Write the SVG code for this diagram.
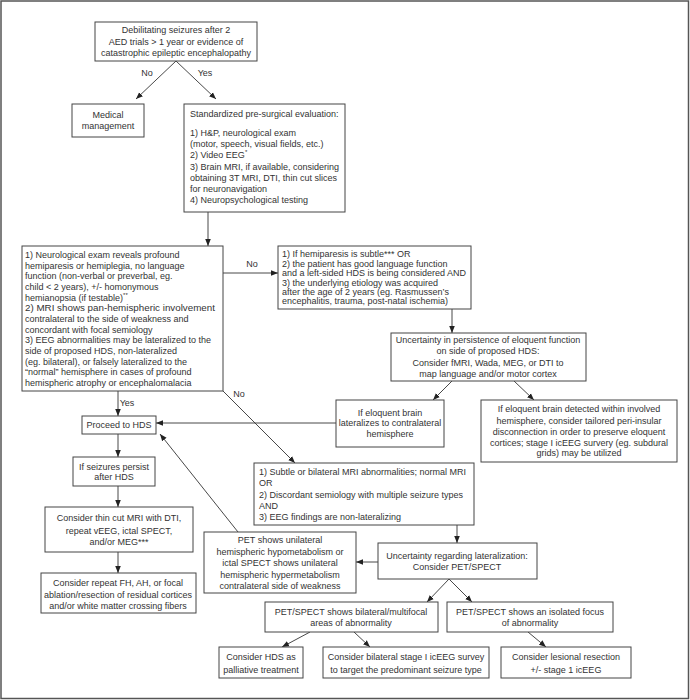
<svg xmlns="http://www.w3.org/2000/svg" width="690" height="700" viewBox="0 0 690 700">
<defs>
<marker id="ah" viewBox="0 0 10 10" refX="10" refY="5" markerWidth="7" markerHeight="7" markerUnits="userSpaceOnUse" orient="auto">
<path d="M0,1 L10,5 L0,9 z" fill="#222"/>
</marker>
<style>
.b{fill:#fff;stroke:#444;stroke-width:1}
text{font-family:"Liberation Sans",Arial,sans-serif;font-size:9px;fill:#333}
.c{text-anchor:middle}
.e{stroke:#333;stroke-width:0.9;fill:none;marker-end:url(#ah)}
.sup{font-size:6px}
</style>
</defs>
<rect x="1" y="1" width="687.5" height="697.5" fill="#fff" stroke="#555" stroke-width="1.5"/>

<g id="connectors">
<path class="e" d="M176,61 L136,99"/>
<path class="e" d="M176,61 L216,99"/>
<path class="e" d="M208,212 L208,246"/>
<path class="e" d="M223,273 L278,273"/>
<path class="e" d="M452,309 L452,333"/>
<path class="e" d="M452,381 L433,400"/>
<path class="e" d="M514,381 L534,400"/>
<path class="e" d="M336,423 L156,423"/>
<path class="e" d="M118,391 L118,416"/>
<path class="e" d="M223,391 L295,463"/>
<path class="e" d="M118,434 L118,457"/>
<path class="e" d="M118,486 L118,507"/>
<path class="e" d="M118,552 L118,573"/>
<path class="e" d="M238,532 L160,434"/>
<path class="e" d="M457,525 L457,543"/>
<path class="e" d="M378,562 L356,562"/>
<path class="e" d="M449,579 L427,602"/>
<path class="e" d="M449,579 L472,602"/>
<path class="e" d="M310,632 L282,647"/>
<path class="e" d="M354,632 L370,647"/>
<path class="e" d="M528,632 L546,647"/>
<text x="147" y="76" class="c">No</text>
<text x="205" y="76" class="c">Yes</text>
<text x="252" y="267" class="c">No</text>
<text x="127" y="406" class="c">Yes</text>
<text x="239" y="397" class="c">No</text>
</g>

<g id="n1">
<rect class="b" x="95" y="22" width="162" height="39"/>
<text x="176" y="33" class="c">Debilitating seizures after 2</text>
<text x="176" y="45" class="c">AED trials &gt; 1 year or evidence of</text>
<text x="176" y="56" class="c">catastrophic epileptic encephalopathy</text>
</g>

<g id="n2">
<rect class="b" x="72" y="104" width="72" height="33"/>
<text x="108" y="118" class="c">Medical</text>
<text x="108" y="129" class="c">management</text>
</g>

<g id="n3">
<rect class="b" x="184" y="104" width="161" height="108"/>
<text x="190" y="117">Standardized pre-surgical evaluation:</text>
<text x="190" y="136">1) H&amp;P, neurological exam</text>
<text x="190" y="147">(motor, speech, visual fields, etc.)</text>
<text x="190" y="158">2) Video EEG<tspan class="sup" dy="-4">*</tspan></text>
<text x="190" y="170">3) Brain MRI, if available, considering</text>
<text x="190" y="181">obtaining 3T MRI, DTI, thin cut slices</text>
<text x="190" y="192">for neuronavigation</text>
<text x="190" y="203">4) Neuropsychological testing</text>
</g>

<g id="n4">
<rect class="b" x="22" y="246" width="201" height="145"/>
<text x="25" y="258">1) Neurological exam reveals profound</text>
<text x="25" y="269">hemiparesis or hemiplegia, no language</text>
<text x="25" y="279">function (non-verbal or preverbal, eg.</text>
<text x="25" y="290">child &lt; 2 years), +/- homonymous</text>
<text x="25" y="301">hemianopsia (if testable)<tspan class="sup" dy="-4">**</tspan></text>
<text x="25" y="311" textLength="190" lengthAdjust="spacingAndGlyphs">2) MRI shows pan-hemispheric involvement</text>
<text x="25" y="322">contralateral to the side of weakness and</text>
<text x="25" y="333">concordant with focal semiology</text>
<text x="25" y="343">3) EEG abnormalities may be lateralized to the</text>
<text x="25" y="354">side of proposed HDS, non-lateralized</text>
<text x="25" y="365">(eg. bilateral), or falsely lateralized to the</text>
<text x="25" y="375">“normal” hemisphere in cases of profound</text>
<text x="25" y="386">hemispheric atrophy or encephalomalacia</text>
</g>

<g id="n5">
<rect class="b" x="278" y="246" width="193" height="63"/>
<text x="282" y="257">1) If hemiparesis is subtle*** OR</text>
<text x="282" y="267">2) the patient has good language function</text>
<text x="282" y="276">and a left-sided HDS is being considered AND</text>
<text x="282" y="286">3) the underlying etiology was acquired</text>
<text x="282" y="295">after the age of 2 years (eg. Rasmussen’s</text>
<text x="282" y="304">encephalitis, trauma, post-natal ischemia)</text>
</g>

<g id="n6">
<rect class="b" x="391" y="333" width="195" height="48"/>
<text x="488" y="343" class="c">Uncertainty in persistence of eloquent function</text>
<text x="488" y="354" class="c">on side of proposed HDS:</text>
<text x="488" y="366" class="c">Consider fMRI, Wada, MEG, or DTI to</text>
<text x="488" y="377" class="c">map language and/or motor cortex</text>
</g>

<g id="n7">
<rect class="b" x="336" y="400" width="108" height="47"/>
<text x="390" y="416" class="c">If eloquent brain</text>
<text x="390" y="426" class="c">lateralizes to contralateral</text>
<text x="390" y="437" class="c">hemisphere</text>
</g>

<g id="n8">
<rect class="b" x="481" y="400" width="196" height="62"/>
<text x="579" y="412" class="c">If eloquent brain detected within involved</text>
<text x="579" y="424" class="c">hemisphere, consider tailored peri-insular</text>
<text x="579" y="435" class="c">disconnection in order to preserve eloquent</text>
<text x="579" y="446" class="c">cortices; stage I icEEG survery (eg. subdural</text>
<text x="579" y="456" class="c">grids) may be utilized</text>
</g>

<g id="n9">
<rect class="b" x="82" y="416" width="74" height="18"/>
<text x="119" y="428" class="c">Proceed to HDS</text>
</g>

<g id="n10">
<rect class="b" x="254" y="463" width="220" height="62"/>
<text x="259" y="475">1) Subtle or bilateral MRI abnormalities; normal MRI</text>
<text x="259" y="486">OR</text>
<text x="259" y="498">2) Discordant semiology with multiple seizure types</text>
<text x="259" y="509">AND</text>
<text x="259" y="520">3) EEG findings are non-lateralizing</text>
</g>

<g id="n11">
<rect class="b" x="73" y="457" width="82" height="29"/>
<text x="114" y="470" class="c">If seizures persist</text>
<text x="114" y="480" class="c">after HDS</text>
</g>

<g id="n12">
<rect class="b" x="45" y="507" width="148" height="45"/>
<text x="119" y="521" class="c">Consider thin cut MRI with DTI,</text>
<text x="119" y="534" class="c">repeat vEEG, ictal SPECT,</text>
<text x="119" y="545" class="c">and/or MEG***</text>
</g>

<g id="n13">
<rect class="b" x="41" y="573" width="155" height="40"/>
<text x="118" y="586" class="c">Consider repeat FH, AH, or focal</text>
<text x="118" y="598" class="c">ablation/resection of residual cortices</text>
<text x="118" y="609" class="c">and/or white matter crossing fibers</text>
</g>

<g id="n14">
<rect class="b" x="204" y="532" width="152" height="61"/>
<text x="280" y="543" class="c">PET shows unilateral</text>
<text x="280" y="555" class="c">hemispheric hypometabolism or</text>
<text x="280" y="566" class="c">ictal SPECT shows unilateral</text>
<text x="280" y="578" class="c">hemispheric hypermetabolism</text>
<text x="280" y="589" class="c">contralateral side of weakness</text>
</g>

<g id="n15">
<rect class="b" x="378" y="543" width="159" height="36"/>
<text x="457" y="559" class="c">Uncertainty regarding lateralization:</text>
<text x="457" y="570" class="c">Consider PET/SPECT</text>
</g>

<g id="n16">
<rect class="b" x="265" y="602" width="173" height="30"/>
<text x="351" y="615" class="c">PET/SPECT shows bilateral/multifocal</text>
<text x="351" y="626" class="c">areas of abnormality</text>
</g>

<g id="n17">
<rect class="b" x="447" y="602" width="166" height="30"/>
<text x="530" y="615" class="c">PET/SPECT shows an isolated focus</text>
<text x="530" y="626" class="c">of abnormality</text>
</g>

<g id="n18">
<rect class="b" x="219" y="647" width="84" height="31"/>
<text x="261" y="660" class="c">Consider HDS as</text>
<text x="261" y="673" class="c">palliative treatment</text>
</g>

<g id="n19">
<rect class="b" x="323" y="647" width="166" height="31"/>
<text x="406" y="660" class="c">Consider bilateral stage I icEEG survey</text>
<text x="406" y="673" class="c">to target the predominant seizure type</text>
</g>

<g id="n20">
<rect class="b" x="501" y="647" width="130" height="31"/>
<text x="566" y="660" class="c">Consider lesional resection</text>
<text x="566" y="673" class="c">+/- stage 1 icEEG</text>
</g>
</svg>
